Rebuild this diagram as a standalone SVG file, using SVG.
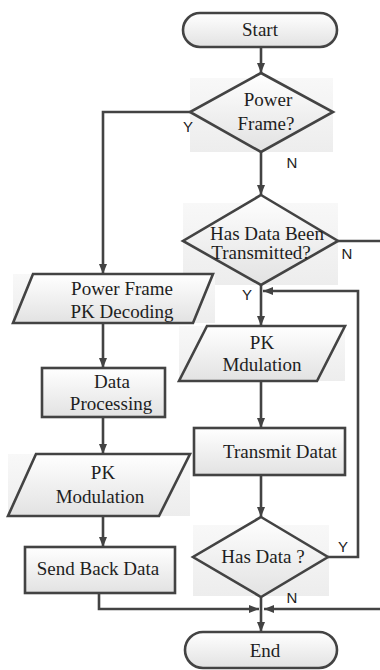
<svg xmlns="http://www.w3.org/2000/svg" width="380" height="670" viewBox="0 0 380 670">
<style>
.shape{stroke:#434343;stroke-width:2.6;fill:url(#g)}
.bg{fill:url(#bgg);stroke:none}
.t{font-family:"Liberation Serif","Times New Roman",serif;font-size:19px;fill:#1e1e1e;text-anchor:middle}
.lbl{font-family:"Liberation Sans",Arial,sans-serif;font-size:15px;fill:#222;text-anchor:middle}
.ln{stroke:#434343;stroke-width:2.6;fill:none}
.ar{stroke:#434343;stroke-width:2.6;fill:none;marker-end:url(#ah)}
</style>
<defs>
<linearGradient id="g" x1="0" y1="0" x2="0" y2="1">
<stop offset="0" stop-color="#ffffff"/>
<stop offset="1" stop-color="#e2e2e2"/>
</linearGradient>
<linearGradient id="bgg" x1="0" y1="0" x2="0" y2="1">
<stop offset="0" stop-color="#f8f8f8"/>
<stop offset="1" stop-color="#ededed"/>
</linearGradient>
<marker id="ah" viewBox="0 0 10 8" refX="10" refY="4" markerWidth="10" markerHeight="8" markerUnits="userSpaceOnUse" orient="auto">
<path d="M0,0 L10,4 L0,8 Z" fill="#434343"/>
</marker>
</defs>
<rect width="380" height="670" fill="#ffffff"/>

<g id="start">
<rect class="shape" x="183" y="13" width="154" height="34" rx="17"/>
<text class="t" x="260" y="36">Start</text>
</g>

<g id="power-frame">
<rect class="bg" x="190" y="78" width="143" height="74"/>
<polygon class="shape" points="261,73 333,112 261,152 190,112"/>
<text class="t" x="268" y="106">Power</text>
<text class="t" x="266" y="130">Frame?</text>
</g>

<g id="has-data-been-transmitted">
<rect class="bg" x="183" y="203" width="155" height="82"/>
<polygon class="shape" points="261,195 338,241 261,285 183,241"/>
<text class="t" x="267" y="240">Has Data Been</text>
<text class="t" x="261" y="259">Transmitted?</text>
</g>

<g id="pk-mdulation">
<rect class="bg" x="179" y="326" width="166" height="55"/>
<polygon class="shape" points="207,326 345,326 317,381 179,381"/>
<text class="t" x="262" y="349">PK</text>
<text class="t" x="262" y="371">Mdulation</text>
</g>

<g id="transmit-data">
<rect class="shape" x="194" y="428" width="151" height="47"/>
<text class="t" x="280" y="458">Transmit Datat</text>
</g>

<g id="has-data">
<rect class="bg" x="193" y="525" width="136" height="71"/>
<polygon class="shape" points="261,517 328,557 261,597 193,557"/>
<text class="t" x="263" y="563">Has Data ?</text>
</g>

<g id="end">
<rect class="shape" x="185" y="632" width="152" height="36" rx="18"/>
<text class="t" x="265" y="657">End</text>
</g>

<g id="power-frame-pk-decoding">
<rect class="bg" x="13" y="274" width="202" height="49"/>
<polygon class="shape" points="33,274 213,274 193,323 13,323"/>
<text class="t" x="122" y="295">Power Frame</text>
<text class="t" x="122" y="318">PK Decoding</text>
</g>

<g id="data-processing">
<rect class="shape" x="42" y="368" width="123" height="49"/>
<text class="t" x="112" y="388">Data</text>
<text class="t" x="111" y="410">Processing</text>
</g>

<g id="pk-modulation">
<rect class="bg" x="8" y="454" width="182" height="62"/>
<polygon class="shape" points="36,454 190,454 159,516 8,516"/>
<text class="t" x="103" y="479">PK</text>
<text class="t" x="100" y="503">Modulation</text>
</g>

<g id="send-back-data">
<rect class="shape" x="25" y="547" width="150" height="46"/>
<text class="t" x="98" y="575">Send Back Data</text>
</g>

<g id="connectors">
<path class="ar" d="M261,47 V73"/>
<path class="ar" d="M190,112 H103 V274"/>
<path class="ar" d="M261,152 V195"/>
<path class="ln" d="M338,241 H380"/>
<path class="ar" d="M261,285 V326"/>
<path class="ar" d="M328,557 H358 V291 H263"/>
<path class="ar" d="M261,381 V428"/>
<path class="ar" d="M261,475 V517"/>
<path class="ar" d="M261,597 V632"/>
<path class="ar" d="M99,593 V609 H259"/>
<path class="ar" d="M380,609 H264"/>
<path class="ar" d="M103,323 V368"/>
<path class="ar" d="M103,417 V454"/>
<path class="ar" d="M103,516 V547"/>
<text class="lbl" x="188" y="132">Y</text>
<text class="lbl" x="292" y="168">N</text>
<text class="lbl" x="347" y="259">N</text>
<text class="lbl" x="247" y="300">Y</text>
<text class="lbl" x="343" y="552">Y</text>
<text class="lbl" x="292" y="603">N</text>
</g>
</svg>
